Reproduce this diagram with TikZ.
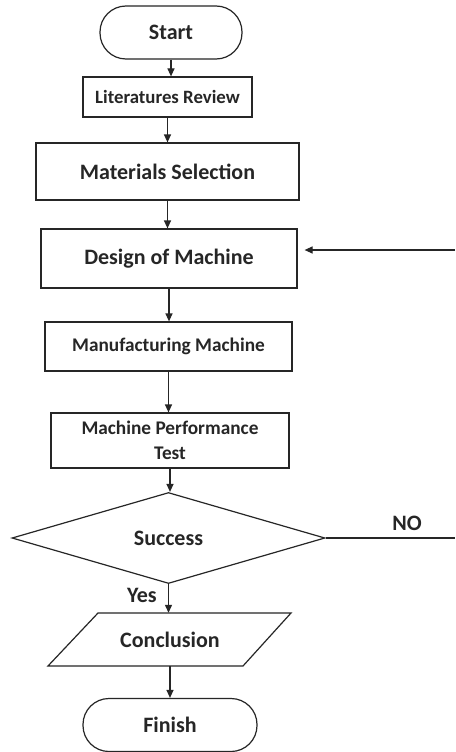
\documentclass[tikz,border=0pt]{standalone}
\usepackage{fontspec}
\setmainfont{Carlito}
\usetikzlibrary{shapes.geometric,arrows.meta}
\tikzset{
  base/.style={draw=black!85, line width=1.2pt, inner sep=0pt, font=\bfseries, text=black!85},
  box/.style={base, rectangle},
  term/.style={base, rectangle, rounded corners=26pt},
  decision/.style={base, diamond},
  arr/.style={draw=black!85, line width=1.2pt, -{Triangle[length=8pt,width=7pt]}},
  ln/.style={draw=black!85, line width=1.2pt},
  lbl/.style={font=\bfseries, text=black!85, inner sep=0pt},
  big/.style={font=\fontsize{22}{26}\bfseries},
  mid/.style={font=\fontsize{19.3}{24.5}\bfseries}
}
\begin{document}
\begin{tikzpicture}[x=1pt,y=-1pt]
\useasboundingbox[fill=white] (0,0) rectangle (455,752);
\node[term, big, minimum width=142pt, minimum height=53pt] (start) at (171,32.5) {Start};
\node[box, font=\fontsize{18.8}{22}\bfseries, minimum width=169pt, minimum height=40pt] (lit) at (167.5,97) {Literatures Review};
\node[box, big, minimum width=263pt, minimum height=57pt] (mat) at (167.5,171.5) {Materials Selection};
\node[box, big, minimum width=256pt, minimum height=59pt] (des) at (169,258.5) {Design of Machine};
\node[box, mid, minimum width=247pt, minimum height=49pt] (man) at (168.5,346.5) {Manufacturing Machine};
\node[box, mid, minimum width=238pt, minimum height=55pt, align=center] (mpt) at (170,440.5) {Machine Performance\\Test};
\node[decision, big, minimum width=313pt, minimum height=91pt] (dec) at (168.5,538) {Success};
\node[lbl, big, minimum width=193pt, minimum height=53pt] (conc) at (170,639.5) {Conclusion};
\draw[ln] (98,613) -- (291,613) -- (243,666) -- (48,666) -- cycle;
\node[term, big, minimum width=174pt, minimum height=53pt] (fin) at (170,725) {Finish};
\node[lbl, big] (no) at (407,523) {NO};
\node[lbl, big] (yes) at (142,595) {Yes};
\coordinate (noend) at (455,538);
\coordinate (fb) at (455,250);
\draw[arr] (start.south) -- (start.south |- lit.north);
\draw[arr] (lit.south) -- (lit.south |- mat.north);
\draw[arr] (mat.south) -- (mat.south |- des.north);
\draw[arr] (des.south) -- (des.south |- man.north);
\draw[arr] (man.south) -- (man.south |- mpt.north);
\draw[arr] (mpt.south) -- (mpt.south |- dec.north);
\draw[arr] (dec.south) -- (dec.south |- conc.north);
\draw[arr] (conc.south) -- (conc.south |- fin.north);
\draw[ln] (dec.east) -- (noend);
\draw[arr, shorten >=7pt] (fb) -- (des.east |- fb);
\end{tikzpicture}
\end{document}
